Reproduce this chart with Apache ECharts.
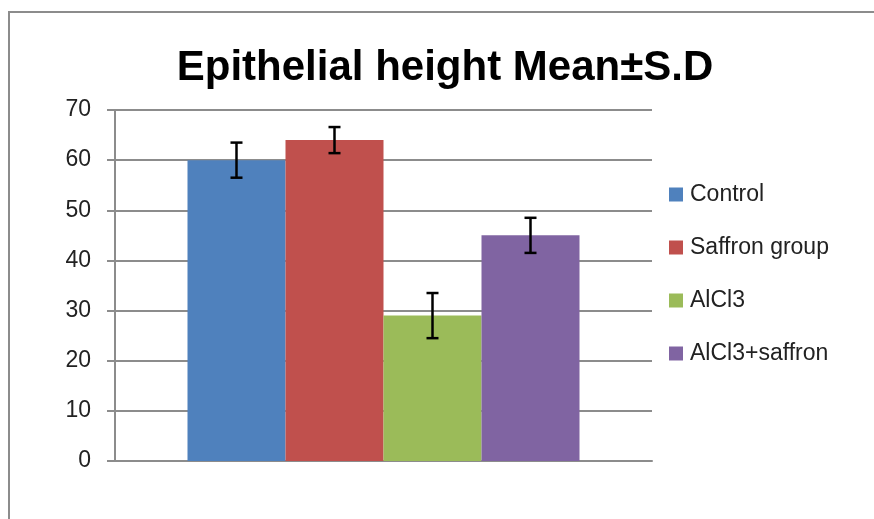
<!DOCTYPE html>
<html>
<head>
<meta charset="utf-8">
<script src="https://cdn.jsdelivr.net/npm/echarts@6/dist/echarts.min.js"></script>
<style>
  html, body { margin: 0; padding: 0; background: #fff; }
  #main { width: 874px; height: 519px; }
</style>
</head>
<body>
<div id="main"></div>
<script>
// groups, means and S.D
var groups = ['Control', 'Saffron group', 'AlCl3', 'AlCl3+saffron'];
var means = [60, 64, 29, 45];
var sds = [3.5, 2.6, 4.5, 3.5];
var colors = ['#4f81bd', '#c0504d', '#9bbb59', '#8064a2'];
var yTicks = [0, 10, 20, 30, 40, 50, 60, 70];

var catGap = 0.27;

var myChart = echarts.init(document.getElementById('main'));

var series = [];
for (var i = 0; i < groups.length; i++) {
    series.push({
        name: groups[i],
        type: 'bar',
        data: [means[i]],
        barGap: '0%',
        barCategoryGap: '27%',
        itemStyle: { color: colors[i] },
        emphasis: { disabled: true }
    });
}

// error bars, placed over each bar
var errData = [];
for (var k = 0; k < groups.length; k++) {
    errData.push([0, means[k], sds[k], k]);
}
series.push({
    type: 'custom',
    name: 'err',
    data: errData,
    z: 10,
    silent: true,
    renderItem: function (params, api) {
        var mean = api.value(1), sd = api.value(2), idx = api.value(3);
        var catW = api.size([1, 0])[0];
        var barW = catW * (1 - catGap) / groups.length;
        var center = api.coord([0, mean]);
        var x = center[0] - catW * (1 - catGap) / 2 + barW * (idx + 0.5);
        var top = api.coord([0, mean + sd])[1];
        var bot = api.coord([0, mean - sd])[1];
        var half = 6;
        var st = { stroke: '#000', lineWidth: 2.5 };
        return {
            type: 'group',
            children: [
                { type: 'line', shape: { x1: x, y1: top, x2: x, y2: bot }, style: st },
                { type: 'line', shape: { x1: x - half, y1: top, x2: x + half, y2: top }, style: st },
                { type: 'line', shape: { x1: x - half, y1: bot, x2: x + half, y2: bot }, style: st }
            ]
        };
    }
});

var option = {
    animation: false,
    title: {
        text: 'Epithelial height Mean\u00b1S.D',
        left: 440,
        textAlign: 'center',
        top: 42,
        textStyle: {
            fontFamily: 'Liberation Sans',
            fontWeight: 'bold',
            fontSize: 42,
            color: '#000'
        }
    },
    legend: {
        data: groups,
        orient: 'vertical',
        left: 664,
        top: 178,
        itemWidth: 14,
        itemHeight: 14,
        itemGap: 30,
        icon: 'rect',
        selectedMode: false,
        textStyle: {
            fontFamily: 'Liberation Sans',
            fontSize: 23,
            lineHeight: 23,
            padding: [0, 0, 0, 2],
            color: '#222'
        }
    },
    grid: {
        left: 115,
        right: 222,
        top: 110,
        bottom: 58
    },
    xAxis: {
        type: 'category',
        data: [''],
        axisLine: { lineStyle: { color: '#8c8c8c', width: 2 } },
        axisTick: { show: false },
        axisLabel: { show: false },
        splitLine: { show: false }
    },
    yAxis: {
        type: 'value',
        min: yTicks[0],
        max: yTicks[yTicks.length - 1],
        interval: 10,
        axisLine: { show: true, lineStyle: { color: '#8c8c8c', width: 2 } },
        axisTick: { show: true, length: 8, lineStyle: { color: '#8c8c8c', width: 2 } },
        axisLabel: {
            margin: 24,
            fontFamily: 'Liberation Sans',
            fontSize: 23,
            color: '#222'
        },
        splitLine: { lineStyle: { color: '#8c8c8c', width: 2 } }
    },
    graphic: [{
        type: 'polyline',
        shape: { points: [[9, 519], [9, 12], [874, 12]] },
        style: { stroke: '#8c8c8c', lineWidth: 2, fill: null },
        silent: true
    }],
    series: series
};

myChart.setOption(option);
</script>
</body>
</html>
